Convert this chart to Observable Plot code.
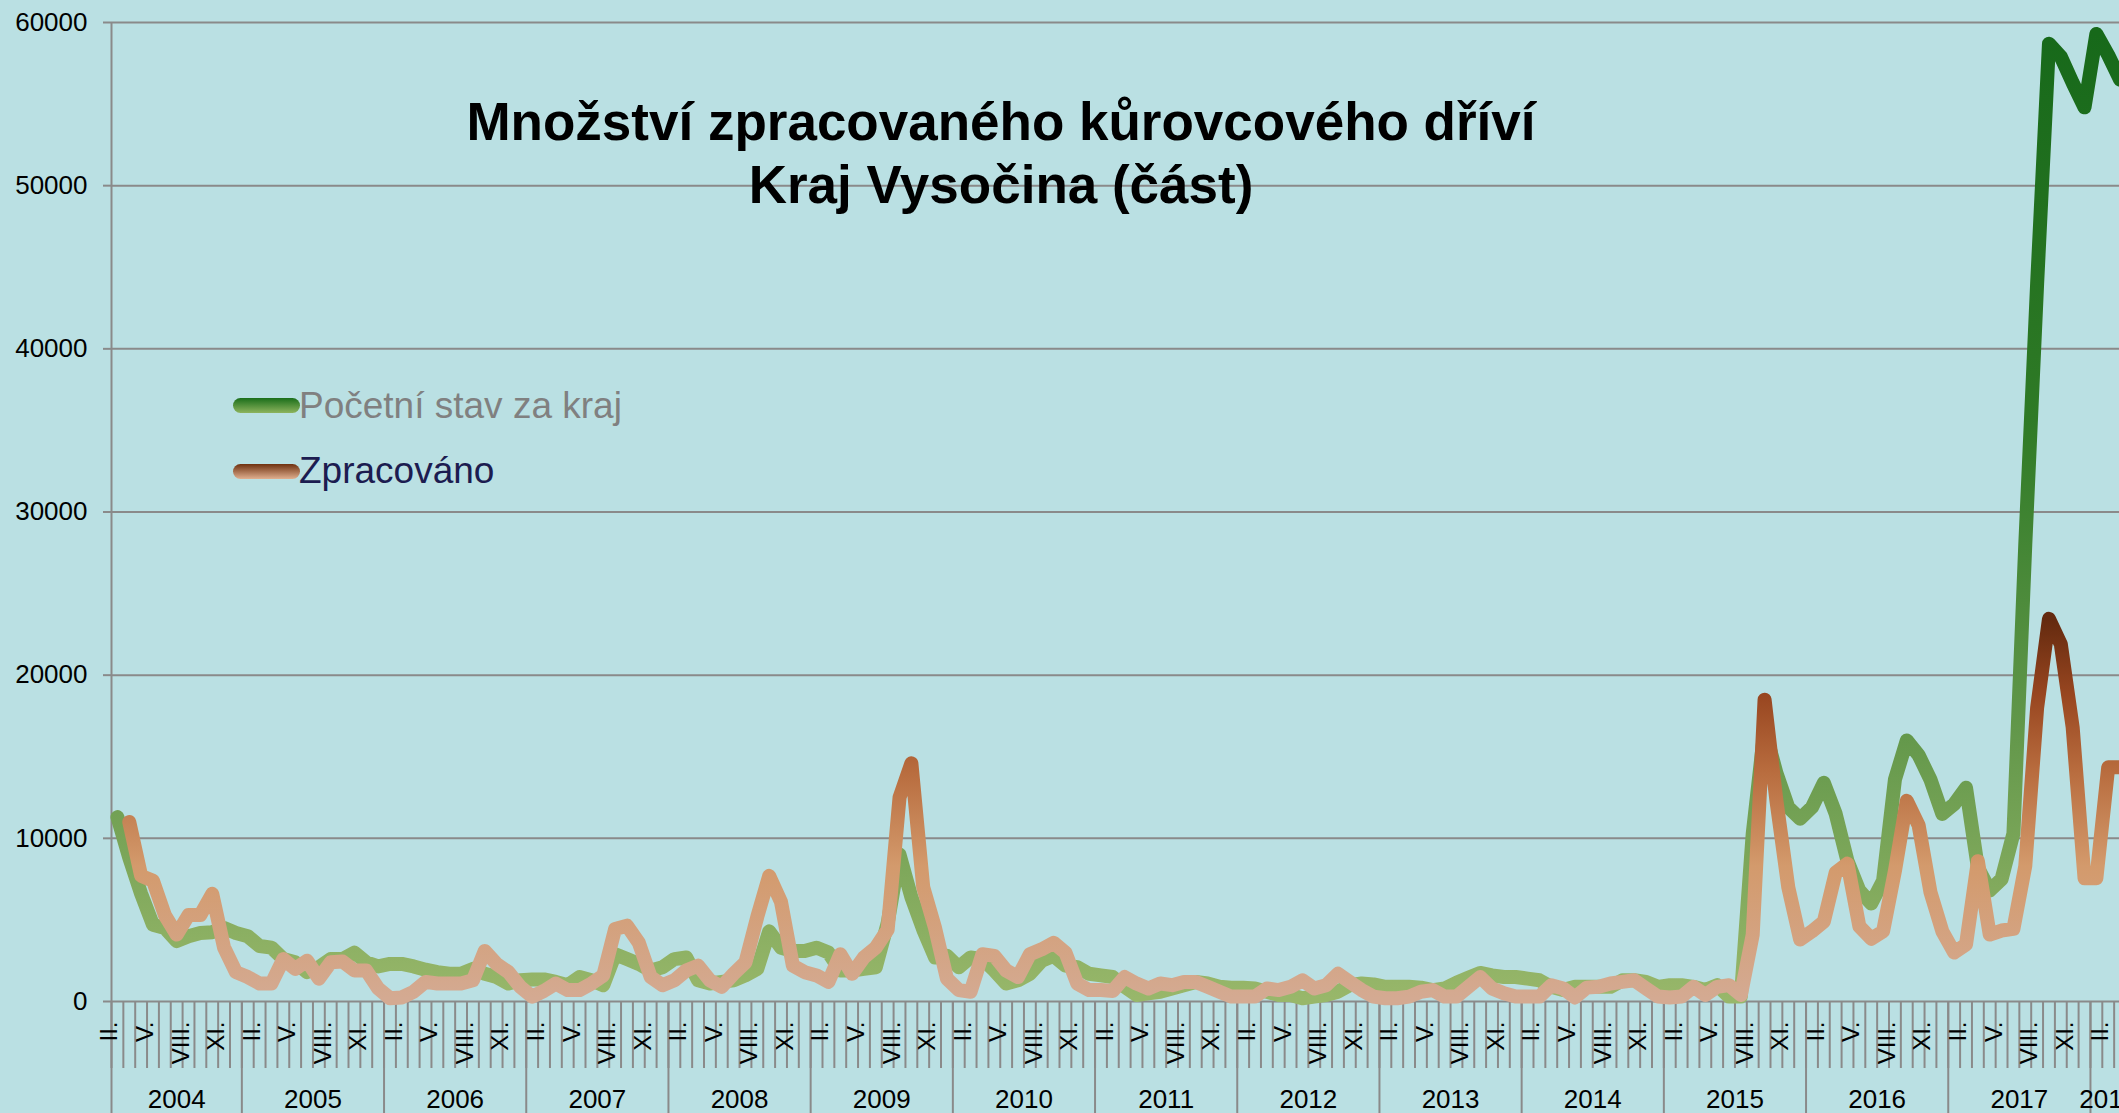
<!DOCTYPE html>
<html><head><meta charset="utf-8">
<script src="https://cdn.jsdelivr.net/npm/d3@7"></script>
<script src="https://cdn.jsdelivr.net/npm/@observablehq/plot@0.6"></script>
<style>
html,body{margin:0;padding:0;background:#bae0e3;overflow:hidden}
#wrap{position:relative;width:2119px;height:1113px;font-family:"Liberation Sans",Arial,sans-serif}
#chart{position:absolute;left:0;top:0}
#title{position:absolute;left:0;width:2002px;top:90px;text-align:center;font-weight:bold;font-size:53px;line-height:63px;color:#000}
.leg{position:absolute;left:299px;font-size:37px;line-height:37px;white-space:nowrap}
.sw{position:absolute;left:233px;width:67px;height:15px;border-radius:8px}
</style></head>
<body><div id="wrap"><div id="chart"></div>
<div id="title">Množství zpracovaného kůrovcového dříví<br>Kraj Vysočina (část)</div>
<div class="sw" style="top:398px;background:linear-gradient(#1a6e1a,#8db45e)"></div>
<div class="leg" style="top:387px;color:#808080">Početní stav za kraj</div>
<div class="sw" style="top:464px;background:linear-gradient(#6e300f,#e0b090)"></div>
<div class="leg" style="top:452px;color:#1c1c50">Zpracováno</div>
</div>
<script>
// Categories: months from II/2004 (index 1, where I/2004 = 0) to III/2018
const firstMonthIndex = 1;
const years = [2004,2005,2006,2007,2008,2009,2010,2011,2012,2013,2014,2015,2016,2017,2018];
const romanMonths = ["I.","II.","III.","IV.","V.","VI.","VII.","VIII.","IX.","X.","XI.","XII."];
const labeledMonths = ["II.","V.","VIII.","XI."];
const yTicks = [0,10000,20000,30000,40000,50000,60000];
const axisMonthCount = 171; // category axis ends after III/2018

// Series: Početní stav za kraj (from II/2004)
const pocetniStav = [
11300,8800,6600,4700,4500,3700,4000,4200,4250,4500,4200,
4000,3400,3300,2600,2400,1800,2100,2600,2600,3000,2400,2150,
2300,2300,2150,1950,1800,1700,1700,2000,1700,1500,1100,1300,
1350,1350,1200,1000,1500,1300,1000,2900,2600,2300,1900,2100,
2600,2700,1300,1100,1200,1300,1600,2000,4300,3300,3100,3100,
3300,3000,1900,1900,2000,2100,4800,9000,6400,4400,2700,2800,
2100,2700,2600,1900,1100,1300,1700,2500,2800,2200,2100,1700,
1600,1500,900,400,500,600,800,1000,1200,1100,900,850,
850,800,600,400,400,200,300,400,600,1000,1100,1050,
900,900,900,850,700,800,1150,1450,1750,1600,1500,1500,
1400,1300,900,700,900,900,900,900,1300,1300,1200,900,
1000,1000,900,700,1000,300,300,10300,16700,14000,11900,11200,
11900,13400,11500,8600,6800,6000,7400,13600,16000,15100,13600,11500,
12100,13100,8200,6800,7500,10300,28000,44000,58700,57900,56300,54800,
59300,58000,56500
];

// Series: Zpracováno (from II/2004)
const zpracovano = [
null,11000,7700,7400,5300,4100,5300,5300,6600,3300,1800,
1500,1100,1100,2600,2000,2500,1400,2400,2450,1900,1900,800,
200,250,600,1200,1100,1100,1100,1300,3100,2300,1800,900,
300,650,1100,700,700,1100,1600,4450,4650,3600,1500,1000,
1300,1900,2200,1300,900,1700,2400,5200,7700,6100,2200,1800,
1600,1200,2900,1700,2700,3300,4400,12500,14600,7000,4500,1400,
700,600,2900,2800,1900,1500,2900,3200,3600,3000,1100,700,
700,650,1500,1100,800,1100,1000,1200,1200,900,600,300,
300,300,800,700,900,1300,800,1000,1700,1200,700,300,
200,200,300,600,700,300,300,900,1500,800,500,300,
300,300,1000,800,250,850,900,1100,1200,1300,800,300,
250,300,900,400,900,1000,400,4100,18500,12300,7000,3800,
4300,4900,7900,8450,4600,3850,4300,8000,12300,10800,6700,4300,
3000,3500,8600,4100,4350,4450,8300,18000,23450,21900,16800,7550,
7550,14350,14350
];

const green = pocetniStav.map((v,i)=>({t: firstMonthIndex+i, v})).filter(d=>d.v!=null);
const orange = zpracovano.map((v,i)=>({t: firstMonthIndex+i, v})).filter(d=>d.v!=null);

const monthStarts = d3.range(firstMonthIndex, axisMonthCount + 1);
const monthLabelData = d3.range(firstMonthIndex, axisMonthCount)
  .map(t => ({t, label: romanMonths[t % 12]}))
  .filter(d => labeledMonths.includes(d.label));
const yearStarts = years.map(y => Math.max(firstMonthIndex, (y-2004)*12));
const yearLabelData = years.map((y,i) => {
  const s = yearStarts[i];
  const e = Math.min((y-2004)*12 + 12, axisMonthCount);
  return {mid: (s+e)/2, label: String(y)};
});

const pxPerMonth = 11.85;
const chart = Plot.plot({
  width: 2119, height: 1113,
  marginLeft: 111, marginRight: 0, marginTop: 22, marginBottom: 112,
  style: {background: "#bae0e3", fontFamily: "'Liberation Sans', Arial, sans-serif", overflow: "hidden", color: "#000"},
  x: {type: "linear", domain: [firstMonthIndex, firstMonthIndex + (2119-111)/pxPerMonth], axis: null},
  y: {domain: [0, 60000], axis: null},
  marks: [
    Plot.ruleY(yTicks, {stroke: "#8a8a8a", strokeWidth: 2}),
    Plot.axisY({ticks: yTicks, tickSize: 8, tickPadding: 16, fontSize: 26, tickFormat: d => String(d), stroke: "#8a8a8a", strokeWidth: 2, fill: "#000", label: null}),
    Plot.ruleX([firstMonthIndex], {stroke: "#8a8a8a", strokeWidth: 2}),
    Plot.axisX({ticks: monthStarts, tickSize: 67, tickFormat: () => "", stroke: "#8a8a8a", strokeWidth: 2, label: null}),
    Plot.axisX({ticks: yearStarts, tickSize: 112, tickFormat: () => "", stroke: "#8a8a8a", strokeWidth: 2, label: null}),
    Plot.text(monthLabelData, {x: d => d.t + 0.5, text: "label", frameAnchor: "bottom", dy: 20, rotate: -90, textAnchor: "end", fontSize: 24, fill: "#000"}),
    Plot.text(yearLabelData, {x: "mid", text: "label", frameAnchor: "bottom", dy: 106, fontSize: 26, fill: "#000"}),
    Plot.line(green, {x: d => d.t + 0.5, y: "v", stroke: "url(#gradGreen)", strokeWidth: 14, strokeLinejoin: "round", strokeLinecap: "round"}),
    Plot.line(orange, {x: d => d.t + 0.5, y: "v", stroke: "url(#gradOrange)", strokeWidth: 14, strokeLinejoin: "round", strokeLinecap: "round"})
  ]
});

const svg = d3.select(chart);
const defs = svg.insert("defs", ":first-child");
function grad(id, stops) {
  const g = defs.append("linearGradient").attr("id", id).attr("x1", 0).attr("y1", 0).attr("x2", 0).attr("y2", 1);
  stops.forEach(([o, c]) => g.append("stop").attr("offset", o).attr("stop-color", c));
}
grad("gradGreen", [["0%", "#17691a"], ["40%", "#2f7a26"], ["72%", "#62974a"], ["100%", "#98b76a"]]);
grad("gradOrange", [["0%", "#642a0f"], ["20%", "#984620"], ["40%", "#b86c3e"], ["65%", "#d39a6c"], ["100%", "#d4aa92"]]);

document.getElementById("chart").appendChild(chart);
</script>
</body></html>
